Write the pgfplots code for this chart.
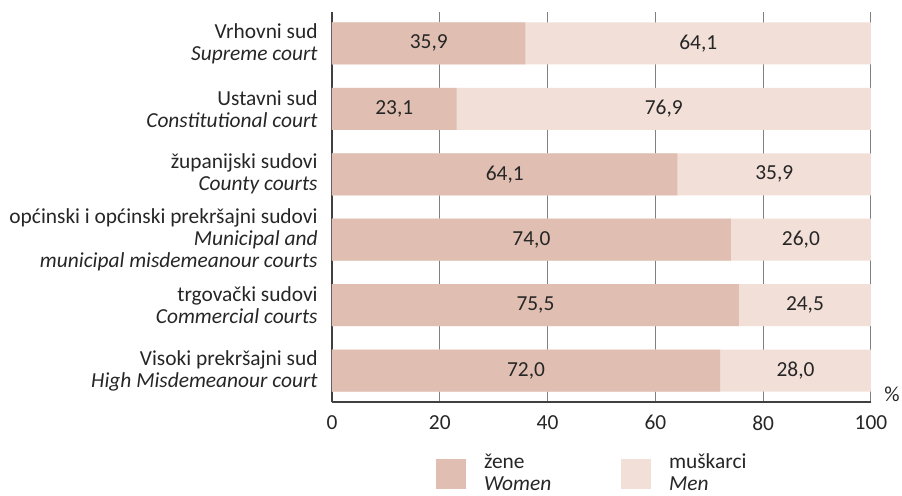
\documentclass[border=0pt]{standalone}
\usepackage{fontspec}
\setmainfont{Carlito}
\usepackage{pgfplots}
\pgfplotsset{compat=1.18}
\usepackage{pgfplotstable}
\definecolor{women}{RGB}{224,191,178}
\definecolor{men}{RGB}{242,223,216}
\definecolor{gridc}{RGB}{128,128,128}
\definecolor{axc}{RGB}{64,64,64}
\definecolor{txt}{RGB}{38,38,38}

\pgfplotstableread{
y w m
0 35.9 64.1
1 23.1 76.9
2 64.1 35.9
3 74.0 26.0
4 75.5 24.5
5 72.0 28.0
}\data

\newcommand{\legentry}[3]{\textcolor{#1}{\rule[-10pt]{15pt}{15pt}}\hspace{9pt}\parbox[t]{60pt}{#2\\\textit{#3}}}

\begin{document}
\begin{tikzpicture}[font=\fontsize{10.7}{11}\selectfont, text=txt]
\begin{axis}[
  set layers,
  scale only axis, width=269.5pt, height=195pt,
  at={(0,0)}, anchor=south west,
  xmin=0, xmax=100, ymin=-0.48, ymax=5.48, y dir=reverse,
  axis x line=bottom, axis y line=left,
  axis line style={-, draw=axc, line width=0.6pt, on layer=axis foreground},
  xtick={0,20,...,100}, ytick={0,...,5},
  major tick length=0pt,
  xmajorgrids, grid style={gridc, line width=0.5pt},
  yticklabels={
    {Vrhovni sud\\\textit{Supreme court}},
    {Ustavni sud\\\textit{Constitutional court}},
    {županijski sudovi\\\textit{County courts}},
    {općinski i općinski prekršajni sudovi\\\textit{Municipal and}\\\textit{municipal misdemeanour courts}},
    {trgovački sudovi\\\textit{Commercial courts}},
    {Visoki prekršajni sud\\\textit{High Misdemeanour court}}},
  yticklabel style={align=right, inner sep=0pt, xshift=-7pt, text=txt},
  xticklabel style={inner sep=0pt, yshift=-6.5pt, text=txt},
  xlabel={\%},
  xlabel style={at={(axis description cs:1.039,0.0205)}, anchor=center, inner sep=0pt},
  legend columns=2,
  legend style={draw=none, fill=none, inner sep=0pt, outer sep=0pt,
    at={(0.193,-0.2282)}, anchor=south west,
    nodes={inner sep=0pt, outer sep=0pt, text depth={}, text height={}},
    /tikz/every odd column/.append style={column sep=0pt},
    /tikz/every even column/.append style={column sep=8.5pt}},
  legend cell align=left,
  nodes near coords style={anchor=center, text=txt},
  /pgf/number format/assume math mode=true,
]
\addlegendimage{legend image code/.code={}}
\addlegendentry{\legentry{women}{žene}{Women}}
\addlegendimage{legend image code/.code={}}
\addlegendentry{\legentry{men}{muškarci}{Men}}

\addplot[forget plot, xbar, bar width=21pt, bar shift=0pt, fill=men, draw=none]
  table[x expr=\thisrow{w}+\thisrow{m}, y=y] {\data};
\addplot[forget plot, xbar, bar width=21pt, bar shift=0pt, fill=women, draw=none]
  table[x=w, y=y] {\data};
\addplot[forget plot, draw=none, mark=none, nodes near coords, point meta=\thisrow{w},
  /pgf/number format/.cd, fixed, fixed zerofill, precision=1, use comma, assume math mode=true]
  table[x expr=\thisrow{w}/2, y=y] {\data};
\addplot[forget plot, draw=none, mark=none, nodes near coords, point meta=\thisrow{m},
  /pgf/number format/.cd, fixed, fixed zerofill, precision=1, use comma, assume math mode=true]
  table[x expr=\thisrow{w}+\thisrow{m}/2, y=y] {\data};
\end{axis}
\path (-166pt,-47pt) rectangle (285pt,201pt);
\end{tikzpicture}
\end{document}
